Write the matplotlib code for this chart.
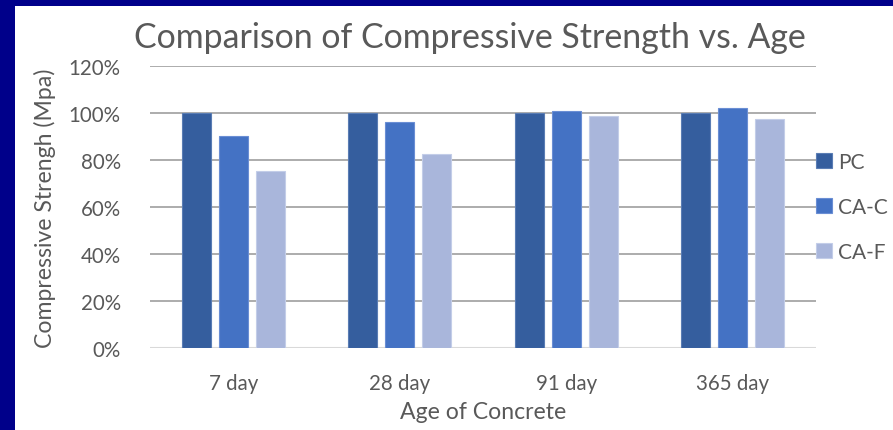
import numpy as np
import matplotlib
matplotlib.use('Agg')
import matplotlib.pyplot as plt
from matplotlib.patches import Rectangle
from matplotlib.ticker import PercentFormatter

plt.rcParams['font.family'] = ['Lato', 'DejaVu Sans']

ages = ['7 day', '28 day', '91 day', '365 day']
series = ['PC', 'CA-C', 'CA-F']
pc = [100, 100, 100, 100]
ca_c = [90.1, 96.2, 101.0, 102.1]
ca_f = [75.4, 82.4, 98.9, 97.3]
yticks = [0, 20, 40, 60, 80, 100, 120]

colors = ['#355E9E', '#4472C4', '#A9B6DB']
edges = ['#5A7DB4', '#6A8ED4', '#C3CDE8']
text_col = '#595959'

W, H = 893, 431
fig = plt.figure(figsize=(W / 100, H / 100), dpi=100, facecolor='#00008A')
# white slide panel, kept behind the axes
fig.patches.append(Rectangle((15 / W, 0), 1 - 15 / W, 1 - 7 / H,
                             transform=fig.transFigure, facecolor='white',
                             edgecolor='none', zorder=-10))

ax = fig.add_axes([150 / W, (H - 349) / H, (816 - 150) / W, (349 - 67) / H])
ax.set_facecolor('none')

x = np.arange(len(ages))
w = 0.174
step = 0.222
for i, (vals, name) in enumerate(zip([pc, ca_c, ca_f], series)):
    ax.bar(x + (i - 1) * step, vals, w, color=colors[i], edgecolor=edges[i],
           linewidth=0.8, label=name, zorder=3)

ax.set_xlim(-0.5, len(ages) - 0.5)
ax.set_ylim(0, 120)
ax.set_yticks(yticks)
ax.yaxis.set_major_formatter(PercentFormatter(decimals=0))
ax.set_xticks(x)
ax.set_xticklabels(ages)
ax.grid(axis='y', color='#A6A6A6', linewidth=1.3, zorder=1)
ax.axhline(0, color='#D9D9D9', linewidth=1.5, zorder=2)
for s in ax.spines.values():
    s.set_visible(False)
ax.tick_params(length=0, labelsize=14.8, labelcolor=text_col)
ax.tick_params(axis='y', pad=21)
ax.tick_params(axis='x', pad=18)

ax.set_title('Comparison of Compressive Strength vs. Age', fontsize=24.4,
             color=text_col, pad=14, x=0.48)
ax.set_xlabel('Age of Concrete', fontsize=16.6, color=text_col, labelpad=6)
ax.set_ylabel('Compressive Strengh (Mpa)', fontsize=16.6, color=text_col,
              labelpad=9)

leg = ax.legend(loc='center left', bbox_to_anchor=(1.0, 0.5), frameon=False,
                fontsize=15, handlelength=0.75, handleheight=0.75,
                handletextpad=0.3, labelspacing=1.2, borderaxespad=0.0,
                borderpad=0.0)
for t in leg.get_texts():
    t.set_color(text_col)

fig.savefig('out.png', dpi=100, facecolor=fig.get_facecolor())
